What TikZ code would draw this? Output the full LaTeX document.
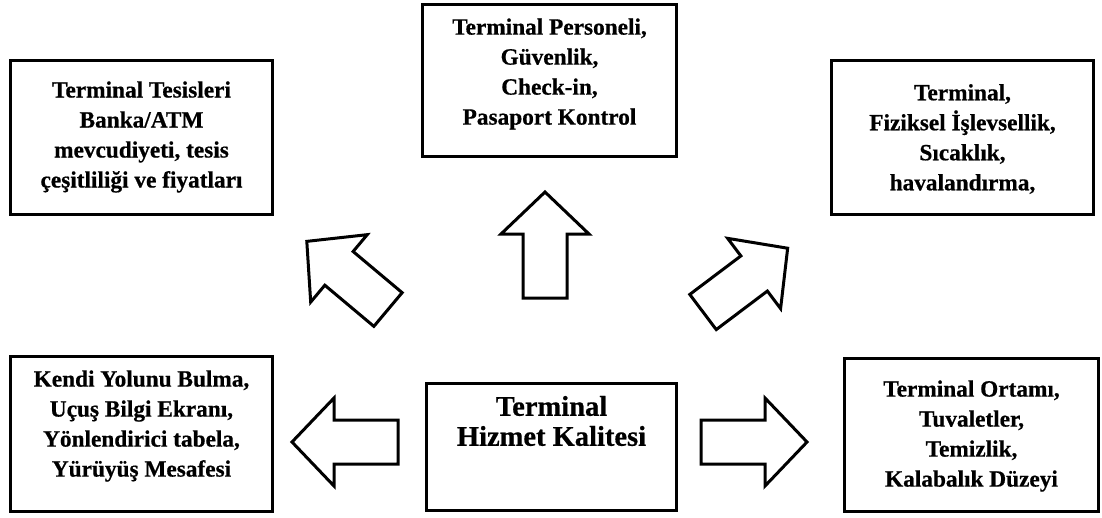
\documentclass[tikz,border=0pt]{standalone}
\usepackage{fontspec}
\setmainfont{Liberation Serif}[BoldFeatures={FakeBold=0.6}]
\begin{document}
\begin{tikzpicture}[x=1pt,y=-1pt,
  box/.style={draw=black,line width=3pt,fill=white,inner sep=0pt},
  boxtext/.style={align=center,inner sep=0pt,
    font=\bfseries\fontsize{23.3}{30}\selectfont},
  hubtext/.style={align=center,inner sep=0pt,
    font=\bfseries\fontsize{28.5}{30}\selectfont},
  blockarrow/.style={draw=black,line width=3pt,line join=miter,fill=white}]
\useasboundingbox (0,0) rectangle (1102,517);

% outline boxes
\node[box,minimum width=262pt,minimum height=154pt] (facilities) at (141.5,137.5) {};
\node[box,minimum width=254pt,minimum height=152pt] (staff) at (549.5,80.5) {};
\node[box,minimum width=262pt,minimum height=154pt] (physical) at (962.5,137.5) {};
\node[box,minimum width=262pt,minimum height=155pt] (wayfinding) at (141.5,434) {};
\node[box,minimum width=254pt,minimum height=153pt] (environment) at (971.5,435) {};
\node[box,minimum width=250pt,minimum height=127pt] (hub) at (551.5,447) {};

% box texts
\node[boxtext] (facilitiestext) at (141.5,137) {Terminal Tesisleri\\Banka/ATM\\mevcudiyeti, tesis\\çeşitliliği ve fiyatları};
\node[boxtext] (stafftext) at (549.5,74) {Terminal Personeli,\\Güvenlik,\\Check-in,\\Pasaport Kontrol};
\node[boxtext] (physicaltext) at (962.5,139) {Terminal,\\Fiziksel İşlevsellik,\\Sıcaklık,\\havalandırma,};
\node[boxtext] (wayfindingtext) at (141.5,426) {Kendi Yolunu Bulma,\\Uçuş Bilgi Ekranı,\\Yönlendirici tabela,\\Yürüyüş Mesafesi};
\node[boxtext] (environmenttext) at (971.5,436) {Terminal Ortamı,\\Tuvaletler,\\Temizlik,\\Kalabalık Düzeyi};
\node[hubtext] (hubtitle) at (551.5,421) {Terminal\\Hizmet Kalitesi};

% block arrows: tail at the given point, pointing along the given angle
\newcommand{\blockarrowat}[2]{%
  \begin{scope}[shift={#1},rotate=#2]
    \draw[blockarrow] (0,-22) -- (64,-22) -- (64,-44) -- (106,0)
      -- (64,44) -- (64,22) -- (0,22) -- cycle;
  \end{scope}}
\blockarrowat{(545,298)}{90}
\blockarrowat{(388,309.5)}{140}
\blockarrowat{(703,312)}{37}
\blockarrowat{(398,442)}{180}
\blockarrowat{(701,442)}{0}
\end{tikzpicture}
\end{document}
